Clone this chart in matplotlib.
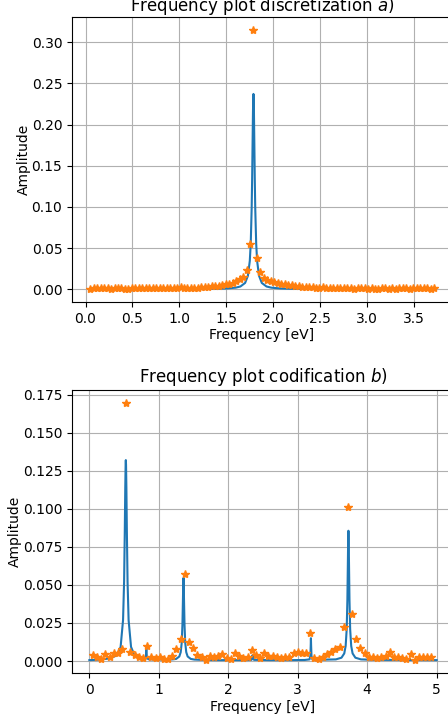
import matplotlib
matplotlib.use("Agg")
import matplotlib.pyplot as plt

# ---------------- Panel a) discretization ----------------
freq_a_line = [0.04, 0.5, 1.0, 1.2, 1.4, 1.5, 1.6, 1.65, 1.70, 1.73, 1.75, 1.76, 1.77,
               1.775, 1.78, 1.784, 1.787, 1.789, 1.791, 1.794, 1.798, 1.803, 1.808,
               1.818, 1.828, 1.848, 1.878, 1.928, 1.978, 2.078, 2.178, 2.4, 2.8, 3.2, 3.72]
amp_a_line = [0.0003, 0.0003, 0.0004, 0.0005, 0.0007, 0.0010, 0.0020, 0.0034, 0.0077,
              0.0165, 0.0345, 0.0556, 0.0986, 0.1343, 0.1803, 0.2163, 0.2338, 0.2373,
              0.2338, 0.2163, 0.1803, 0.1343, 0.0986, 0.0556, 0.0345, 0.0165, 0.0077,
              0.0034, 0.0020, 0.0010, 0.0007, 0.0005, 0.0004, 0.0003, 0.0003]

freq_a_pts = [0.050, 0.087, 0.124, 0.161, 0.198, 0.235, 0.272, 0.309, 0.346, 0.383,
              0.420, 0.457, 0.494, 0.531, 0.568, 0.605, 0.642, 0.679, 0.716, 0.753,
              0.790, 0.827, 0.864, 0.901, 0.938, 0.975, 1.012, 1.049, 1.086, 1.123,
              1.160, 1.197, 1.234, 1.271, 1.308, 1.345, 1.382, 1.419, 1.456, 1.493,
              1.530, 1.567, 1.604, 1.641, 1.678, 1.715, 1.752, 1.789, 1.826, 1.863,
              1.900, 1.937, 1.974, 2.011, 2.048, 2.085, 2.122, 2.159, 2.196, 2.233,
              2.270, 2.307, 2.344, 2.381, 2.418, 2.455, 2.492, 2.529, 2.566, 2.603,
              2.640, 2.677, 2.714, 2.751, 2.788, 2.825, 2.862, 2.899, 2.936, 2.973,
              3.010, 3.047, 3.084, 3.121, 3.158, 3.195, 3.232, 3.269, 3.306, 3.343,
              3.380, 3.417, 3.454, 3.491, 3.528, 3.565, 3.602, 3.639, 3.676, 3.713]
amp_a_pts = [0.0005, 0.0015, 0.0012, 0.0010, 0.0018, 0.0012, 0.0008, 0.0010, 0.0020, 0.0015,
             0.0008, 0.0003, 0.0010, 0.0018, 0.0012, 0.0020, 0.0015, 0.0010, 0.0018, 0.0012,
             0.0016, 0.0010, 0.0014, 0.0020, 0.0016, 0.0012, 0.0022, 0.0015, 0.0012, 0.0016,
             0.0014, 0.0018, 0.0024, 0.0028, 0.0030, 0.0036, 0.0044, 0.0046, 0.0050, 0.0060,
             0.0064, 0.0078, 0.0095, 0.0120, 0.0150, 0.0240, 0.0545, 0.3150, 0.0386, 0.0215,
             0.0138, 0.0110, 0.0098, 0.0085, 0.0075, 0.0068, 0.0060, 0.0055, 0.0048, 0.0042,
             0.0036, 0.0030, 0.0025, 0.0022, 0.0030, 0.0020, 0.0018, 0.0024, 0.0016, 0.0020,
             0.0014, 0.0018, 0.0012, 0.0016, 0.0010, 0.0014, 0.0008, 0.0012, 0.0016, 0.0010,
             0.0006, 0.0012, 0.0008, 0.0004, 0.0010, 0.0014, 0.0006, 0.0010, 0.0004, 0.0012,
             0.0016, 0.0010, 0.0008, 0.0014, 0.0018, 0.0012, 0.0010, 0.0014, 0.0008, 0.0012]

# ---------------- Panel b) codification ----------------
freq_b_line = [0.00, 0.10, 0.20, 0.30, 0.40, 0.45, 0.485, 0.50, 0.51, 0.517, 0.522, 0.525,
               0.528, 0.533, 0.54, 0.55, 0.565, 0.60, 0.65, 0.72, 0.80, 0.812, 0.817, 0.820,
               0.823, 0.830, 0.85, 0.95, 1.10, 1.20, 1.25, 1.295, 1.315, 1.33, 1.34, 1.347,
               1.352, 1.355, 1.358, 1.363, 1.37, 1.38, 1.395, 1.415, 1.46, 1.51, 1.65, 1.9,
               2.2, 2.33, 2.343, 2.35, 2.357, 2.37, 2.6, 2.9, 3.1, 3.17, 3.182, 3.187, 3.190,
               3.193, 3.198, 3.21, 3.3, 3.45, 3.55, 3.63, 3.67, 3.69, 3.705, 3.715, 3.722,
               3.727, 3.730, 3.733, 3.738, 3.745, 3.755, 3.77, 3.79, 3.83, 3.91, 4.1, 4.5, 5.0]
amp_b_line = [0.0006, 0.0008, 0.0012, 0.0018, 0.0038, 0.0093, 0.0269, 0.0520, 0.0850, 0.1140,
              0.1290, 0.1320, 0.1290, 0.1140, 0.0850, 0.0520, 0.0269, 0.0093, 0.0038, 0.0019,
              0.0012, 0.0015, 0.0050, 0.0088, 0.0050, 0.0020, 0.0012, 0.0010, 0.0010, 0.0011,
              0.0014, 0.0030, 0.0058, 0.0121, 0.0238, 0.0396, 0.0519, 0.0546, 0.0519, 0.0396,
              0.0238, 0.0121, 0.0058, 0.0030, 0.0014, 0.0010, 0.0007, 0.0006, 0.0006, 0.0007,
              0.0015, 0.0040, 0.0015, 0.0008, 0.0006, 0.0006, 0.0007, 0.0011, 0.0034, 0.0098,
              0.0150, 0.0098, 0.0034, 0.0012, 0.0008, 0.0010, 0.0011, 0.0022, 0.0050, 0.0099,
              0.0209, 0.0402, 0.0647, 0.0819, 0.0856, 0.0819, 0.0647, 0.0402, 0.0209, 0.0099,
              0.0050, 0.0022, 0.0011, 0.0008, 0.0007, 0.0006]

freq_b_pts = [0.050, 0.110, 0.170, 0.231, 0.291, 0.351, 0.411, 0.471, 0.532, 0.592,
              0.652, 0.712, 0.772, 0.833, 0.893, 0.953, 1.013, 1.073, 1.134, 1.194,
              1.254, 1.314, 1.374, 1.435, 1.495, 1.555, 1.615, 1.675, 1.736, 1.796,
              1.856, 1.916, 1.976, 2.037, 2.097, 2.157, 2.217, 2.277, 2.338, 2.398,
              2.458, 2.518, 2.578, 2.639, 2.699, 2.759, 2.819, 2.879, 2.940, 3.000,
              3.060, 3.120, 3.180, 3.241, 3.301, 3.361, 3.421, 3.482, 3.542, 3.602,
              3.662, 3.722, 3.782, 3.843, 3.903, 3.963, 4.023, 4.083, 4.144, 4.204,
              4.264, 4.324, 4.384, 4.445, 4.505, 4.565, 4.625, 4.685, 4.746, 4.806,
              4.866, 4.926]
amp_b_pts = [0.0039, 0.0028, 0.0011, 0.0046, 0.0028, 0.0055, 0.0050, 0.0076, 0.1696, 0.0061,
             0.0039, 0.0028, 0.0017, 0.0098, 0.0028, 0.0022, 0.0024, 0.0015, 0.0013, 0.0035,
             0.0076, 0.0144, 0.0569, 0.0126, 0.0085, 0.0039, 0.0026, 0.0007, 0.0033, 0.0028,
             0.0030, 0.0044, 0.0017, 0.0011, 0.0050, 0.0033, 0.0022, 0.0026, 0.0072, 0.0039,
             0.0017, 0.0050, 0.0033, 0.0035, 0.0028, 0.0017, 0.0024, 0.0028, 0.0050, 0.0061,
             0.0055, 0.0050, 0.0187, 0.0017, 0.0011, 0.0028, 0.0044, 0.0061, 0.0076, 0.0094,
             0.0225, 0.1010, 0.0312, 0.0148, 0.0083, 0.0050, 0.0024, 0.0028, 0.0017, 0.0024,
             0.0033, 0.0057, 0.0028, 0.0024, 0.0017, 0.0011, 0.0046, 0.0007, 0.0024, 0.0028,
             0.0024, 0.0028]

W, H = 448, 719
fig = plt.figure(figsize=(W / 100, H / 100), dpi=100)

ax1 = fig.add_axes([72 / W, (H - 302) / H, 380 / W, 285 / H])
ax1.plot(freq_a_line, amp_a_line, color="C0", lw=1.5)
ax1.plot(freq_a_pts, amp_a_pts, "*", color="C1", ms=6, linestyle="none")
ax1.set_title("Frequency plot discretization $a$)", pad=2.5)
ax1.set_xlabel("Frequency [eV]", labelpad=2)
ax1.set_ylabel("Amplitude", labelpad=0.5)
ax1.grid(True)

ax2 = fig.add_axes([72 / W, (H - 673) / H, 382 / W, 283 / H])
ax2.plot(freq_b_line, amp_b_line, color="C0", lw=1.5)
ax2.plot(freq_b_pts, amp_b_pts, "*", color="C1", ms=6, linestyle="none")
ax2.set_title("Frequency plot codification $b$)")
ax2.set_xlabel("Frequency [eV]", labelpad=2)
ax2.set_ylabel("Amplitude", labelpad=0.5)
ax2.grid(True)

fig.savefig("out.png", dpi=100)
